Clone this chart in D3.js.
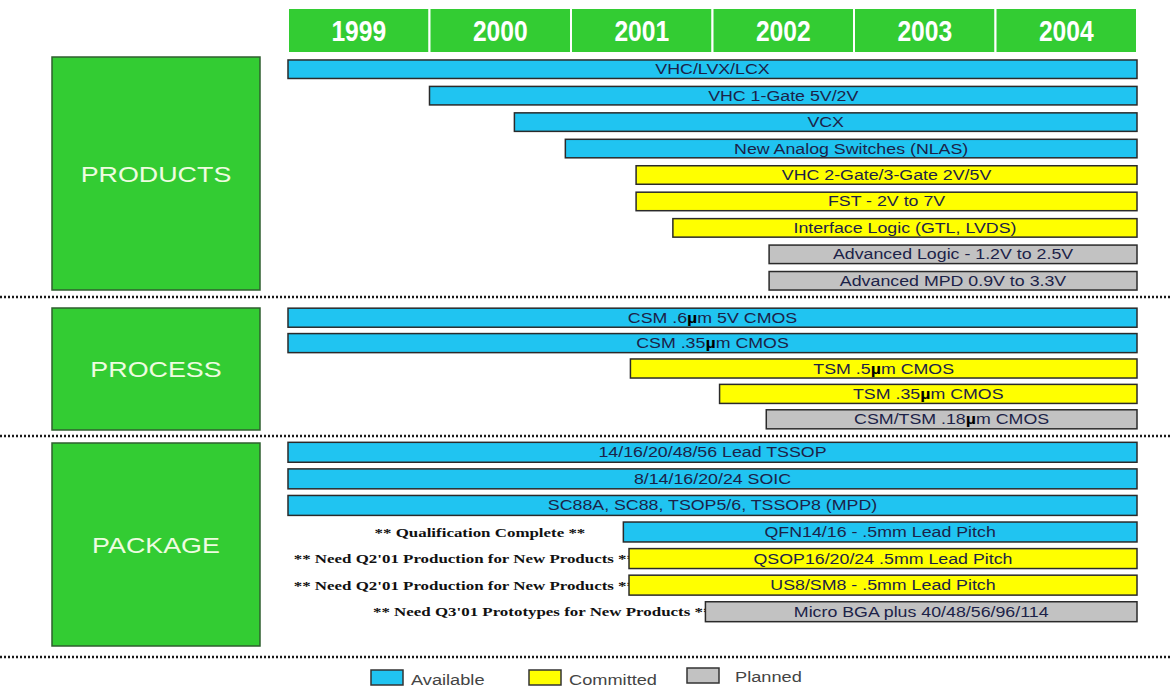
<!DOCTYPE html>
<html>
<head>
<meta charset="utf-8">
<script src="https://cdn.jsdelivr.net/npm/d3@7"></script>
<style>
  body { margin: 0; background: #fff; }
  svg { display: block; }
</style>
</head>
<body>
<div id="chart"></div>
<script>
// timeline data
const years = ["1999", "2000", "2001", "2002", "2003", "2004"];
const barEnd = 2005;

const productLabels = ["VHC/LVX/LCX", "VHC 1-Gate 5V/2V", "VCX", "New Analog Switches (NLAS)",
  "VHC 2-Gate/3-Gate 2V/5V", "FST - 2V to 7V", "Interface Logic (GTL, LVDS)",
  "Advanced Logic - 1.2V to 2.5V", "Advanced MPD 0.9V to 3.3V"];
const productStart = [1999, 2000, 2000.6, 2000.96, 2001.46, 2001.46, 2001.72, 2002.4, 2002.4];
const productStatus = ["Available", "Available", "Available", "Available",
  "Committed", "Committed", "Committed", "Planned", "Planned"];

const processLabels = ["CSM .6µm 5V CMOS", "CSM .35µm CMOS", "TSM .5µm CMOS", "TSM .35µm CMOS", "CSM/TSM .18µm CMOS"];
const processStart = [1999, 1999, 2001.42, 2002.05, 2002.38];
const processStatus = ["Available", "Available", "Committed", "Committed", "Planned"];

const packageLabels = ["14/16/20/48/56 Lead TSSOP", "8/14/16/20/24 SOIC", "SC88A, SC88, TSOP5/6, TSSOP8 (MPD)",
  "QFN14/16 - .5mm Lead Pitch", "QSOP16/20/24 .5mm Lead Pitch", "US8/SM8 - .5mm Lead Pitch",
  "Micro BGA plus 40/48/56/96/114"];
const packageStart = [1999, 1999, 1999, 2001.37, 2001.41, 2001.41, 2001.95];
const packageStatus = ["Available", "Available", "Available", "Available", "Committed", "Committed", "Planned"];
const packageNotes = ["", "", "", "** Qualification Complete **",
  "** Need Q2'01 Production for New Products **",
  "** Need Q2'01 Production for New Products **",
  "** Need Q3'01 Prototypes for New Products **"];

const sectionNames = ["PRODUCTS", "PROCESS", "PACKAGE"];
const legendNames = ["Available", "Committed", "Planned"];

const width = 1171, height = 690;
const color = d3.scaleOrdinal().domain(legendNames).range(["#20c4f1", "#ffff00", "#c2c2c2"]);
const x = d3.scaleLinear().domain([1999, barEnd]).range([288, 1137]);

const svg = d3.select("#chart").append("svg")
  .attr("width", width).attr("height", height);

// widen text the way the scanned slide is stretched
function stretch(sel, k) {
  sel.each(function () {
    const w = this.getComputedTextLength();
    d3.select(this).attr("textLength", w * k).attr("lengthAdjust", "spacingAndGlyphs");
  });
}

// header with years
const header = svg.append("g");
header.selectAll("rect").data(years).join("rect")
  .attr("x", d => x(+d)).attr("y", 8)
  .attr("width", x(2000) - x(1999)).attr("height", 45)
  .attr("fill", "#33cc33").attr("stroke", "#fff").attr("stroke-width", 2);
header.selectAll("text").data(years).join("text")
  .attr("x", d => x(+d + 0.5)).attr("y", 41)
  .attr("text-anchor", "middle")
  .attr("font-family", "'Liberation Sans', Arial, sans-serif")
  .attr("font-weight", "bold").attr("font-size", 30)
  .attr("fill", "#fff")
  .text(d => d)
  .call(stretch, 0.82);

const sections = [
  { name: sectionNames[0], labels: productLabels, start: productStart, status: productStatus, notes: null,
    range: [56, 294], pad: 0.3, box: [57, 290] },
  { name: sectionNames[1], labels: processLabels, start: processStart, status: processStatus, notes: null,
    range: [305, 432], pad: 0.25, box: [308, 430] },
  { name: sectionNames[2], labels: packageLabels, start: packageStart, status: packageStatus, notes: packageNotes,
    range: [439, 625], pad: 0.25, box: [443, 646] }
];

sections.forEach(s => {
  const y = d3.scaleBand().domain(s.labels).range(s.range)
    .paddingInner(s.pad).paddingOuter(s.pad / 2);
  const g = svg.append("g");

  g.append("rect")
    .attr("x", 52).attr("y", s.box[0])
    .attr("width", 208).attr("height", s.box[1] - s.box[0])
    .attr("fill", "#33cc33").attr("stroke", "#2f5f2f").attr("stroke-width", 1.5);
  g.append("text")
    .attr("x", 156).attr("y", (s.box[0] + s.box[1]) / 2 + 8)
    .attr("text-anchor", "middle")
    .attr("font-family", "'Liberation Sans', Arial, sans-serif")
    .attr("font-size", 22).attr("fill", "#eefce0")
    .text(s.name)
    .call(stretch, 1.22);

  const rows = s.labels.map((l, i) => ({ label: l, start: s.start[i], status: s.status[i], note: s.notes ? s.notes[i] : "" }));

  // notes: the "Need" ones run under the bar, the qualification note stops short of it
  g.selectAll(".note").data(rows.filter(d => d.note)).join("text")
    .attr("class", "note")
    .attr("x", d => x(d.start) + (d.note.includes("Need") ? 6 : -38))
    .attr("y", d => y(d.label) + y.bandwidth() / 2 + 4.5)
    .attr("text-anchor", "end")
    .attr("font-family", "'Liberation Serif', 'Times New Roman', serif")
    .attr("font-weight", "bold").attr("font-size", 13).attr("fill", "#111")
    .text(d => d.note)
    .call(stretch, 1.3);

  g.selectAll(".bar").data(rows).join("rect")
    .attr("class", "bar")
    .attr("x", d => x(d.start)).attr("y", d => y(d.label))
    .attr("width", d => x(barEnd) - x(d.start)).attr("height", y.bandwidth())
    .attr("fill", d => color(d.status))
    .attr("stroke", "#2a2a2a").attr("stroke-width", 1.5);

  g.selectAll(".lbl").data(rows).join("text")
    .attr("class", "lbl")
    .attr("x", d => (x(d.start) + x(barEnd)) / 2)
    .attr("y", d => y(d.label) + y.bandwidth() / 2 + 5)
    .attr("text-anchor", "middle")
    .attr("font-family", "'Liberation Sans', Arial, sans-serif")
    .attr("font-size", 14).attr("fill", "#1c2248")
    .each(function (d) {
      const t = d3.select(this);
      const parts = d.label.split("µ");
      parts.forEach((p, i) => {
        if (i > 0) t.append("tspan").attr("font-weight", "bold").attr("fill", "#000").text("µ");
        t.append("tspan").text(p);
      });
    })
    .call(stretch, 1.27);
});

// dotted separators
svg.selectAll(".sep").data([297, 436, 657]).join("line")
  .attr("class", "sep")
  .attr("x1", 0).attr("x2", width)
  .attr("y1", d => d).attr("y2", d => d)
  .attr("stroke", "#1a1a1a").attr("stroke-width", 2.5)
  .attr("stroke-dasharray", "2,2");

// legend
const legendX = d3.scalePoint().domain(legendNames).range([371, 687]);
const legend = svg.append("g");
legend.selectAll("rect").data(legendNames).join("rect")
  .attr("x", d => legendX(d)).attr("y", (d, i) => i === 2 ? 668 : 670)
  .attr("width", 32).attr("height", 15)
  .attr("fill", d => color(d)).attr("stroke", "#333").attr("stroke-width", 1.5);
legend.selectAll("text").data(legendNames).join("text")
  .attr("x", (d, i) => legendX(d) + (i === 2 ? 48 : 40)).attr("y", (d, i) => i === 2 ? 682 : 685)
  .attr("font-family", "'Liberation Sans', Arial, sans-serif")
  .attr("font-size", 14).attr("fill", "#444")
  .text(d => d)
  .call(stretch, 1.3);
</script>
</body>
</html>
